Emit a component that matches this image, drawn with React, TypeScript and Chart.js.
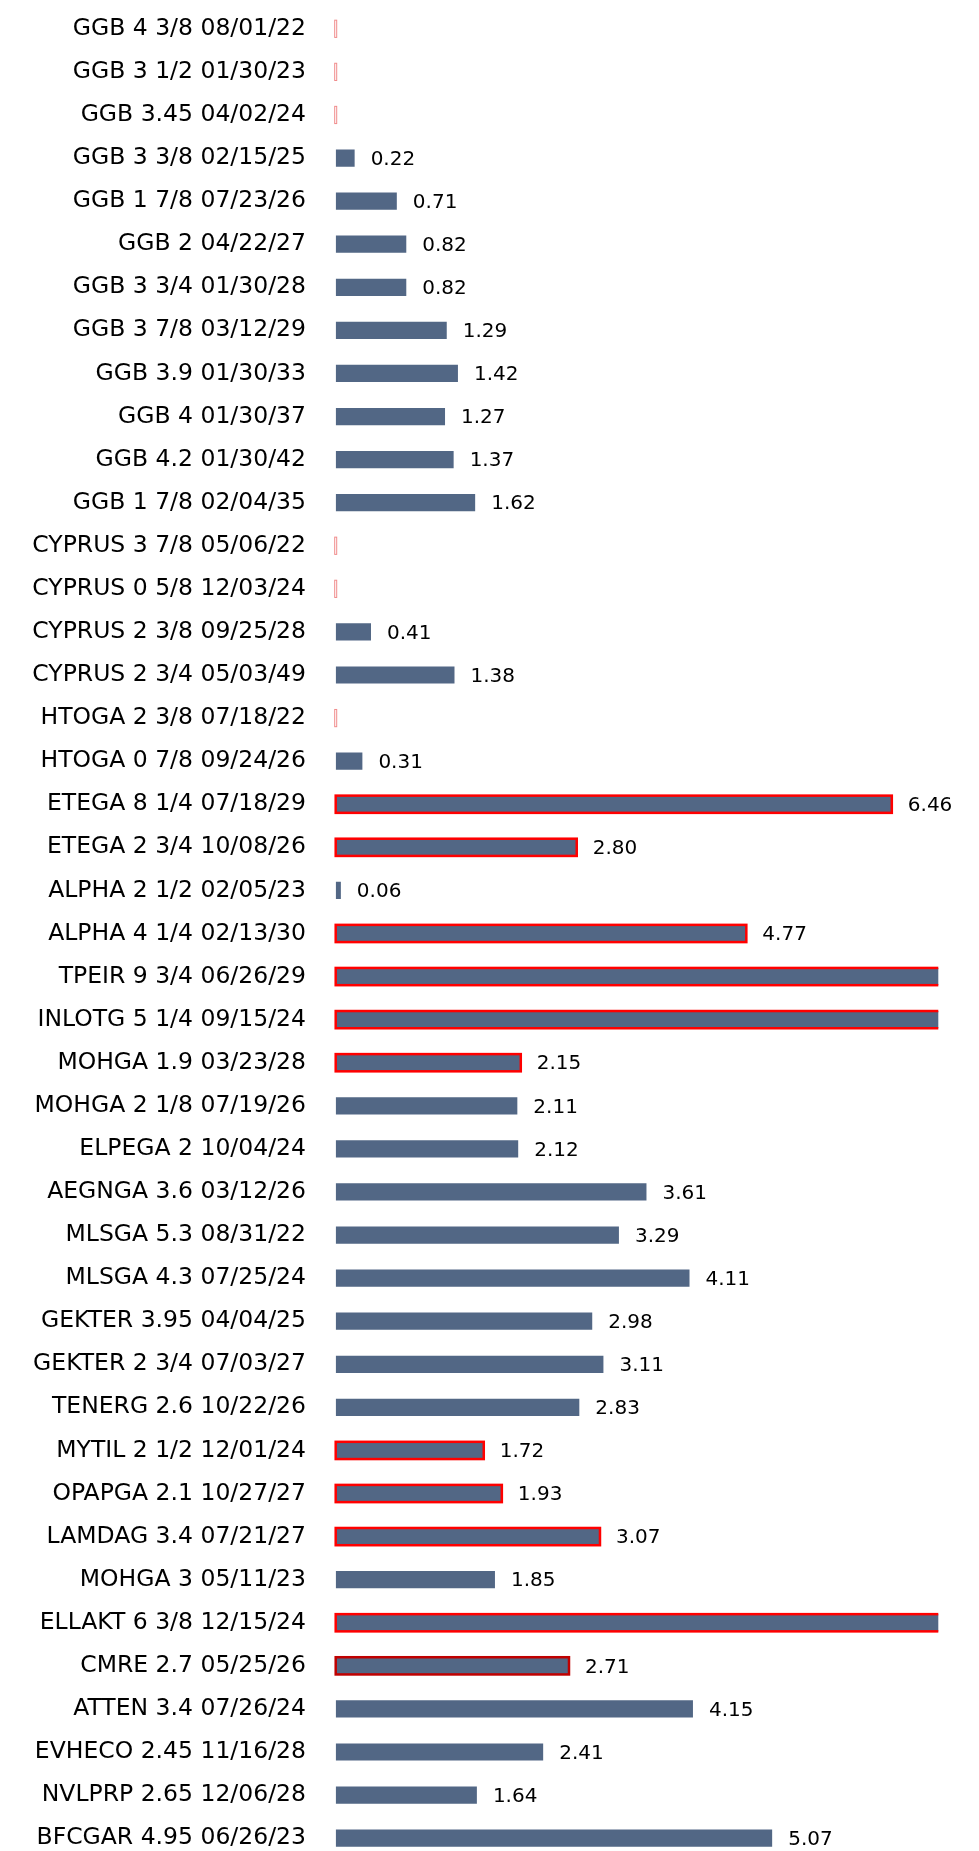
import { useEffect, useRef } from 'react';
import { Chart, registerables } from 'chart.js';

Chart.register(...registerables);

// ---- data ----
const bonds: string[] = [
  'GGB 4 3/8 08/01/22',
  'GGB 3 1/2 01/30/23',
  'GGB 3.45 04/02/24',
  'GGB 3 3/8 02/15/25',
  'GGB 1 7/8 07/23/26',
  'GGB 2 04/22/27',
  'GGB 3 3/4 01/30/28',
  'GGB 3 7/8 03/12/29',
  'GGB 3.9 01/30/33',
  'GGB 4 01/30/37',
  'GGB 4.2 01/30/42',
  'GGB 1 7/8 02/04/35',
  'CYPRUS 3 7/8 05/06/22',
  'CYPRUS 0 5/8 12/03/24',
  'CYPRUS 2 3/8 09/25/28',
  'CYPRUS 2 3/4 05/03/49',
  'HTOGA 2 3/8 07/18/22',
  'HTOGA 0 7/8 09/24/26',
  'ETEGA 8 1/4 07/18/29',
  'ETEGA 2 3/4 10/08/26',
  'ALPHA 2 1/2 02/05/23',
  'ALPHA 4 1/4 02/13/30',
  'TPEIR 9 3/4 06/26/29',
  'INLOTG 5 1/4 09/15/24',
  'MOHGA 1.9 03/23/28',
  'MOHGA 2 1/8 07/19/26',
  'ELPEGA 2 10/04/24',
  'AEGNGA 3.6 03/12/26',
  'MLSGA 5.3 08/31/22',
  'MLSGA 4.3 07/25/24',
  'GEKTER 3.95 04/04/25',
  'GEKTER 2 3/4 07/03/27',
  'TENERG 2.6 10/22/26',
  'MYTIL 2 1/2 12/01/24',
  'OPAPGA 2.1 10/27/27',
  'LAMDAG 3.4 07/21/27',
  'MOHGA 3 05/11/23',
  'ELLAKT 6 3/8 12/15/24',
  'CMRE 2.7 05/25/26',
  'ATTEN 3.4 07/26/24',
  'EVHECO 2.45 11/16/28',
  'NVLPRP 2.65 12/06/28',
  'BFCGAR 4.95 06/26/23',
];

// null = no value shown (empty marker)
const values: (number | null)[] = [
  null, null, null, 0.22, 0.71, 0.82, 0.82, 1.29, 1.42, 1.27, 1.37, 1.62,
  null, null, 0.41, 1.38,
  null, 0.31,
  6.46, 2.80, 0.06, 4.77, 8.1, 7.6,
  2.15, 2.11, 2.12, 3.61, 3.29, 4.11, 2.98, 3.11, 2.83,
  1.72, 1.93, 3.07, 1.85, 7.9, 2.71, 4.15, 2.41, 1.64, 5.07,
];

// 0 = normal, 1 = flagged, 2 = flagged (dark)
const flags: number[] = [
  0, 0, 0, 0, 0, 0, 0, 0, 0, 0, 0, 0,
  0, 0, 0, 0,
  0, 0,
  1, 1, 0, 1, 1, 1,
  1, 0, 0, 0, 0, 0, 0, 0, 0,
  1, 1, 1, 0, 1, 2, 0, 0, 0, 0,
];

const xMin = 0;
const xMax = 7;

const FONT = 'DejaVu Sans';
const BAR_COLOR = '#526785';
const FLAG_COLORS = ['', '#FF0000', '#C00000'];
const EMPTY_COLOR = '#F08C8C';

const overlayPlugin = {
  id: 'overlay',
  afterDatasetsDraw(chart: any) {
    const ctx = chart.ctx;
    const xs = chart.scales.x;
    const ys = chart.scales.y;
    const area = chart.chartArea;
    const meta = chart.getDatasetMeta(0);
    const x0 = xs.getPixelForValue(0);
    let thick = 0;
    meta.data.forEach((el: any, i: number) => {
      if (values[i] != null && !thick) thick = el.height;
    });

    // flagged outlines
    ctx.save();
    ctx.beginPath();
    ctx.rect(area.left - 4, area.top, area.right - area.left + 4, area.bottom - area.top);
    ctx.clip();
    values.forEach((v, i) => {
      const yc = ys.getPixelForValue(i);
      if (v == null) {
        ctx.strokeStyle = EMPTY_COLOR;
        ctx.lineWidth = 1;
        ctx.strokeRect(x0 - 1, yc - thick / 2, 2, thick);
        return;
      }
      const f = flags[i];
      if (f) {
        const el = meta.data[i];
        ctx.strokeStyle = FLAG_COLORS[f];
        ctx.lineWidth = 2.5;
        ctx.strokeRect(el.base, el.y - el.height / 2, el.x - el.base, el.height);
      }
    });
    ctx.restore();

    // value labels
    ctx.save();
    ctx.fillStyle = '#000';
    ctx.font = `20px "${FONT}"`;
    ctx.textAlign = 'left';
    ctx.textBaseline = 'middle';
    values.forEach((v, i) => {
      if (v == null || v > xMax) return;
      const el = meta.data[i];
      ctx.fillText(v.toFixed(2), el.x + 16, el.y + 1.5);
    });
    ctx.restore();
  },
};

export default function App() {
  const ref = useRef<HTMLCanvasElement | null>(null);

  useEffect(() => {
    if (!ref.current) return;
    const chart = new Chart(ref.current, {
      type: 'bar',
      data: {
        labels: bonds,
        datasets: [
          {
            data: values as any,
            backgroundColor: BAR_COLOR,
            borderWidth: 0,
            barPercentage: 0.4,
            categoryPercentage: 1,
          },
        ],
      },
      options: {
        indexAxis: 'y',
        responsive: false,
        animation: false,
        devicePixelRatio: 1,
        layout: { padding: { top: 7.26, bottom: 2.3, left: 0, right: 40.7 } },
        plugins: {
          legend: { display: false },
          tooltip: { enabled: false },
        },
        scales: {
          x: { type: 'linear', min: xMin, max: xMax, display: false },
          y: {
            type: 'category',
            offset: true,
            grid: { display: false, drawTicks: false },
            border: { display: false },
            ticks: {
              autoSkip: false,
              padding: 29.7,
              color: '#000',
              font: { family: FONT, size: 23.5 },
            },
            afterFit: (s: any) => {
              s.width = 335.7;
              s.paddingTop = 0;
              s.paddingBottom = 0;
            },
          },
        },
      },
      plugins: [overlayPlugin],
    });
    return () => chart.destroy();
  }, []);

  return (
    <div
      style={{
        position: 'fixed',
        left: 0,
        top: 0,
        width: 979,
        height: 1851,
        overflow: 'hidden',
        background: '#fff',
      }}
    >
      <canvas ref={ref} width={979} height={1862} style={{ display: 'block' }} />
    </div>
  );
}
